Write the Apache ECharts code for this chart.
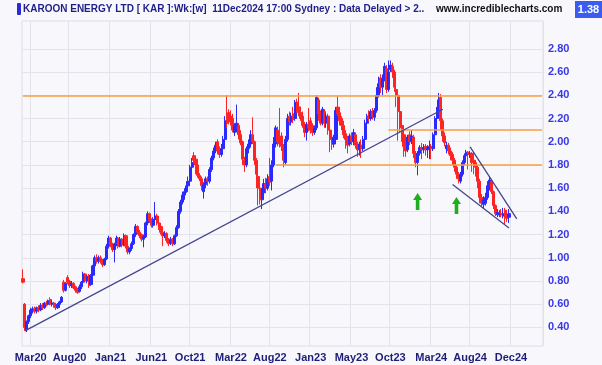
<!DOCTYPE html>
<html>
<head>
<meta charset="utf-8">
<script src="https://cdn.jsdelivr.net/npm/echarts@6.0.0/dist/echarts.min.js"></script>
<style>
  html,body{margin:0;padding:0;background:#f8f8fc;}
  #chart{width:602px;height:365px;}
</style>
</head>
<body>
<div id="chart"></div>
<script>
  // weekly bars, first bar = week of 24 Feb 2020
  let opens = [
    .82,.60,.38,.45,.50,.54,.56,.54,.57,.55, .59,.57,.61,.60,.64,.60,.61,.58,.57,.60,
    .62,.79,.72,.83,.80,.76,.78,.75,.73,.71, .75,.79,.86,.80,.84,.77,.85,.93,1.00,.97,
    1.00,.97,.94,.99,1.10,1.17,1.11,1.07,1.12,1.17, 1.10,1.16,1.11,1.19,1.10,1.05,1.08,1.12,1.20,1.27,
    1.22,1.20,1.16,1.18,1.30,1.38,1.32,1.28,1.33,1.36, 1.30,1.27,1.22,1.19,1.21,1.15,1.13,1.16,1.12,1.19,
    1.26,1.40,1.48,1.54,1.57,1.62,1.66,1.78,1.88,1.85, 1.80,1.71,1.68,1.57,1.63,1.68,1.66,1.76,1.86,1.92,
    2.00,1.94,1.89,1.94,2.02,2.20,2.25,2.22,2.20,2.08, 2.12,2.14,2.06,2.00,1.84,1.80,1.94,1.98,2.06,2.00,
    1.84,1.70,1.60,1.50,1.56,1.64,1.60,1.70,1.66,1.80, 1.98,2.10,2.02,2.05,1.96,1.82,2.02,2.22,2.17,2.24,
    2.20,2.34,2.30,2.25,2.22,2.14,2.08,2.15,2.18,2.14, 2.08,2.12,2.36,2.25,2.16,2.26,2.16,2.22,2.10,2.03,
    1.98,2.02,2.30,2.25,2.20,2.14,2.07,2.03,1.98,2.05, 2.00,2.06,1.98,1.93,1.97,1.94,2.02,2.16,2.22,2.20,
    2.26,2.21,2.27,2.40,2.55,2.47,2.54,2.63,2.45,2.62, 2.65,2.60,2.45,2.40,2.26,2.14,2.06,1.96,1.93,2.06,
    2.00,2.04,1.90,1.82,1.90,1.95,1.93,1.96,1.93,1.94, 1.96,1.94,2.06,2.20,2.26,2.38,2.18,2.05,1.94,1.97,
    1.92,1.89,1.84,1.78,1.72,1.66,1.72,1.82,1.88,1.91, 1.89,1.90,1.84,1.82,1.78,1.66,1.52,1.46,1.47,1.52,
    1.62,1.66,1.57,1.45,1.37,1.37,1.38,1.36,1.41,1.37,1.35
  ]
  let closes = [
    .79,.40,.45,.50,.55,.56,.54,.57,.55,.59, .57,.61,.60,.63,.60,.61,.58,.57,.60,.62,
    .66,.72,.78,.79,.76,.78,.74,.72,.70,.75, .79,.86,.80,.84,.76,.85,.93,1.00,.97,1.00,
    .97,.94,.99,1.10,1.17,1.11,1.07,1.12,1.17,1.10, 1.16,1.11,1.19,1.10,1.05,1.08,1.12,1.20,1.27,1.22,
    1.19,1.16,1.18,1.30,1.38,1.32,1.28,1.33,1.36,1.30, 1.26,1.22,1.19,1.21,1.15,1.12,1.16,1.12,1.19,1.26,
    1.40,1.48,1.54,1.57,1.62,1.66,1.78,1.82,1.84,1.80, 1.71,1.68,1.62,1.63,1.68,1.66,1.76,1.86,1.92,1.97,
    1.92,1.89,1.94,2.02,2.18,2.16,2.20,2.17,2.10,2.14, 2.16,2.06,1.99,1.85,1.80,1.94,1.98,2.06,2.00,1.84,
    1.72,1.60,1.50,1.56,1.64,1.60,1.68,1.65,1.80,1.98, 2.12,2.00,1.98,1.96,1.84,2.02,2.20,2.17,2.22,2.19,
    2.34,2.28,2.25,2.20,2.14,2.08,2.15,2.12,2.10,2.08, 2.12,2.38,2.24,2.16,2.28,2.16,2.22,2.10,2.02,1.98,
    2.04,2.27,2.24,2.18,2.14,2.06,2.02,1.97,2.05,2.00, 2.08,1.97,1.93,1.98,1.94,2.02,2.16,2.22,2.20,2.26,
    2.22,2.27,2.40,2.50,2.47,2.54,2.65,2.45,2.60,2.66, 2.60,2.47,2.40,2.26,2.12,2.05,1.96,1.92,2.04,2.00,
    2.05,1.90,1.82,1.90,1.95,1.93,1.95,1.93,1.95,1.96, 1.94,2.06,2.20,2.26,2.36,2.18,2.05,1.99,1.97,1.92,
    1.88,1.84,1.78,1.72,1.68,1.72,1.82,1.88,1.91,1.89, 1.90,1.82,1.82,1.78,1.66,1.52,1.47,1.50,1.52,1.62,
    1.67,1.57,1.45,1.38,1.39,1.38,1.37,1.38,1.36,1.34,1.38
  ]
  let lows = [
    .78,.37,.36,.43,.48,.52,.52,.52,.53,.54, .55,.56,.58,.59,.59,.58,.57,.55,.56,.58,
    .61,.70,.71,.77,.74,.74,.73,.70,.69,.70, .73,.78,.79,.78,.74,.76,.84,.92,.95,.95,
    .95,.92,.93,.98,1.08,1.09,1.05,.96,1.10,1.08, 1.09,1.09,1.10,1.08,1.03,1.03,1.06,1.11,1.18,1.20,
    1.17,1.14,1.09,1.17,1.28,1.30,1.26,1.26,1.31,1.28, 1.24,1.20,1.10,1.17,1.13,1.10,1.11,1.10,1.11,1.18,
    1.25,1.38,1.46,1.50,1.56,1.60,1.65,1.76,1.81,1.72, 1.69,1.66,1.58,1.51,1.60,1.62,1.64,1.74,1.84,1.90,
    1.89,1.86,1.87,1.92,2.00,2.12,2.15,2.14,2.08,2.05, 2.08,2.02,1.97,1.80,1.74,1.78,1.90,1.95,1.98,1.80,
    1.60,1.45,1.46,1.42,1.54,1.57,1.58,1.62,1.58,1.78, 1.95,1.96,1.95,1.92,1.78,1.80,2.00,2.14,2.14,2.16,
    2.18,2.25,2.22,2.18,2.12,2.04,2.01,2.09,2.07,2.05, 2.06,2.10,2.18,2.14,2.14,2.12,2.12,2.06,1.91,1.93,
    1.95,2.00,2.22,2.14,2.10,2.03,1.94,1.90,1.96,1.97, 1.97,1.94,1.87,1.88,1.86,1.92,2.00,2.12,2.17,2.18,
    2.19,2.18,2.25,2.38,2.42,2.40,2.52,2.42,2.43,2.60, 2.55,2.43,2.30,2.01,2.08,2.00,1.87,1.87,1.91,1.97,
    1.98,1.86,1.78,1.71,1.88,1.85,1.90,1.88,1.86,1.85, 1.85,1.92,2.04,2.17,2.22,2.10,2.00,1.96,1.90,1.89,
    1.84,1.80,1.74,1.68,1.64,1.64,1.70,1.80,1.86,1.76, 1.86,1.74,1.72,1.70,1.60,1.47,1.44,1.42,1.45,1.50,
    1.58,1.55,1.42,1.36,1.35,1.35,1.35,1.34,1.29,1.31,1.30
  ]
  let highs = [
    .90,.61,.46,.51,.57,.58,.58,.58,.59,.61, .61,.62,.63,.64,.66,.63,.62,.60,.61,.63,
    .67,.81,.79,.85,.81,.80,.79,.76,.74,.77, .80,.88,.87,.85,.86,.86,.94,1.02,1.03,1.02,
    1.02,.99,1.00,1.12,1.19,1.18,1.13,1.13,1.19,1.18, 1.18,1.17,1.21,1.20,1.11,1.09,1.14,1.21,1.29,1.28,
    1.24,1.21,1.20,1.31,1.40,1.39,1.34,1.35,1.48,1.38, 1.32,1.28,1.23,1.23,1.22,1.17,1.18,1.17,1.20,1.28,
    1.42,1.50,1.57,1.60,1.66,1.70,1.80,1.86,1.91,1.87, 1.82,1.73,1.70,1.65,1.70,1.70,1.78,1.88,1.95,2.00,
    2.02,1.96,1.98,2.05,2.22,2.40,2.28,2.27,2.24,2.16, 2.32,2.16,2.10,2.01,1.87,1.96,2.02,2.10,2.21,2.01,
    1.86,1.73,1.63,1.60,1.68,1.69,1.72,1.86,1.84,2.04, 2.14,2.13,2.29,2.08,1.98,2.05,2.24,2.26,2.25,2.30,
    2.36,2.37,2.42,2.28,2.26,2.17,2.17,2.29,2.21,2.16, 2.14,2.40,2.38,2.27,2.30,2.28,2.24,2.24,2.12,2.05,
    2.06,2.30,2.39,2.30,2.22,2.18,2.10,2.05,2.07,2.08, 2.11,2.08,2.00,2.00,2.02,2.05,2.19,2.24,2.27,2.28,
    2.29,2.29,2.47,2.56,2.58,2.58,2.68,2.66,2.70,2.70, 2.68,2.62,2.49,2.42,2.32,2.20,2.12,2.00,2.06,2.09,
    2.10,2.06,1.92,1.92,1.97,1.99,1.98,1.98,1.97,2.01, 1.98,2.08,2.22,2.30,2.42,2.41,2.20,2.08,2.00,1.99,
    1.95,1.91,1.86,1.80,1.74,1.74,1.84,1.90,1.93,1.92, 1.92,1.91,1.86,1.84,1.80,1.68,1.55,1.53,1.56,1.66,
    1.70,1.68,1.58,1.46,1.42,1.41,1.42,1.43,1.43,1.38,1.42
  ]
  let weekCount = 268
  let tickIndex = [4, 24, 45, 66, 86, 107, 127, 148, 169, 189, 210, 230, 251]
  let tickLabels = ['Mar20','Aug20','Jan21','Jun21','Oct21','Mar22','Aug22','Jan23','May23','Oct23','Mar24','Aug24','Dec24']
  let priceTicks = [0.4, 0.6, 0.8, 1.0, 1.2, 1.4, 1.6, 1.8, 2.0, 2.2, 2.4, 2.6, 2.8]
  // horizontal levels: [start week, price]
  let levelLines = [[0, 2.40], [188, 2.10], [130, 1.80]]
  // trend lines: [week, price, week, price]
  let trendLines = [[1, 0.37, 216, 2.28], [230, 1.956, 254, 1.335], [221, 1.632, 250, 1.257]]
  let arrows = [[203, 1.485], [223, 1.45]]

  let weeks = []
  for (let i = 0; i < weekCount; i++) weeks.push('w' + i)
  let bars = opens.map((o, i) => [o, closes[i], lows[i], highs[i]])

  let navy = '#454590'
  let orange = '#f7a140'
  let gridColor = '#e3e3ea'

  let markLines = []
  levelLines.forEach(l => {
    markLines.push([{coord: [l[0], l[1]], lineStyle: {color: orange, width: 1.6, type: 'solid'}}, {coord: [weekCount - 1, l[1]]}])
  })
  trendLines.forEach(t => {
    markLines.push([{coord: [t[0], t[1]], lineStyle: {color: navy, width: 1.3, type: 'solid'}}, {coord: [t[2], t[3]]}])
  })

  let myChart = echarts.init(document.getElementById('chart'))
  myChart.setOption({
    backgroundColor: '#f8f8fc',
    animation: false,
    grid: {left: 22, right: 59, top: 21, bottom: 19, show: true, borderColor: '#dcdce4', borderWidth: 1},
    xAxis: {
      type: 'category',
      data: weeks,
      boundaryGap: true,
      axisLine: {show: false},
      axisTick: {show: false},
      axisLabel: {
        interval: (i) => tickIndex.includes(i),
        formatter: (v, i) => tickLabels[tickIndex.indexOf(i)],
        color: '#1e1e78',
        fontWeight: 'bold',
        fontSize: 11,
        fontFamily: 'Arial',
        margin: 6
      },
      splitLine: {show: true, interval: (i) => tickIndex.includes(i), lineStyle: {color: gridColor}}
    },
    yAxis: {
      type: 'value',
      position: 'right',
      min: 0.24,
      max: 3.04,
      axisLine: {show: false},
      axisTick: {show: false, customValues: priceTicks},
      axisLabel: {
        customValues: priceTicks,
        formatter: (v) => v.toFixed(2),
        color: '#3838e6',
        fontWeight: 'bold',
        fontSize: 11,
        fontFamily: 'Arial',
        margin: 5
      },
      splitLine: {show: true, lineStyle: {color: gridColor}}
    },
    series: [{
      type: 'candlestick',
      data: bars,
      barWidth: 2.6,
      itemStyle: {
        color: '#2a2aff',
        color0: '#ff2424',
        borderColor: '#2a2aff',
        borderColor0: '#ff2424',
        borderWidth: 1
      },
      markLine: {
        silent: true,
        symbol: ['none', 'none'],
        label: {show: false},
        lineStyle: {type: 'solid'},
        data: markLines
      },
      markPoint: {
        silent: true,
        symbol: 'path://M5,0 L10,7 L7,7 L7,17 L3,17 L3,7 L0,7 Z',
        symbolSize: [9, 17],
        itemStyle: {color: '#1fae1f'},
        label: {show: false},
        data: arrows.map(a => ({coord: a}))
      }
    }],
    graphic: [
      {type: 'rect', shape: {x: 17, y: 3, width: 4, height: 12, r: 1}, style: {fill: '#2b2bdc'}},
      {type: 'text', x: 23, y: 9, style: {text: 'KAROON ENERGY LTD [ KAR ]:Wk:[w]  11Dec2024 17:00 Sydney : Data Delayed > 2..', font: 'bold 10px Arial', fill: '#1e1e8a', verticalAlign: 'middle'}},
      {type: 'text', x: 436, y: 9, style: {text: 'www.incrediblecharts.com', font: 'bold 10px Arial', fill: '#111111', verticalAlign: 'middle'}},
      {type: 'rect', shape: {x: 575, y: 1, width: 27, height: 17}, style: {fill: '#3a5cf0'}},
      {type: 'text', x: 588.5, y: 9.5, style: {text: '1.38', font: 'bold 11px Arial', fill: '#ffffff', align: 'center', verticalAlign: 'middle'}}
    ]
  })
</script>
</body>
</html>
